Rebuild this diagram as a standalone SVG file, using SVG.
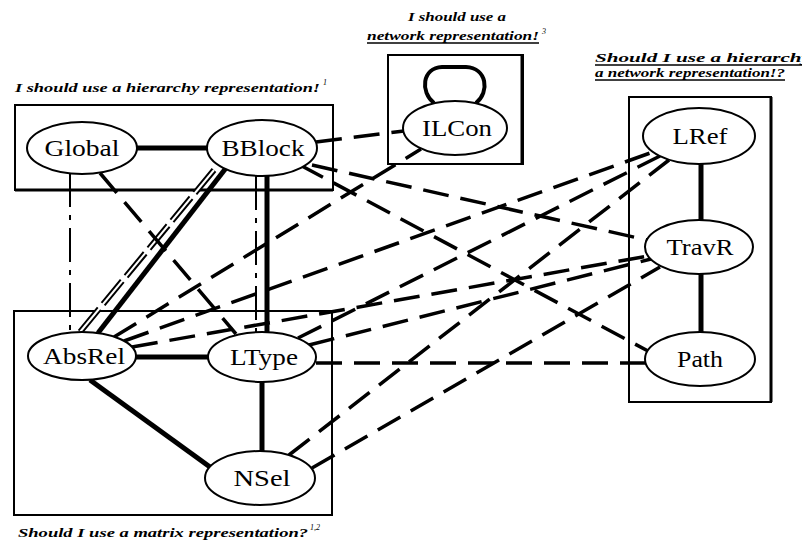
<svg xmlns="http://www.w3.org/2000/svg" width="802" height="546" viewBox="0 0 802 546">
<style>
.box{fill:none;stroke:#000;stroke-width:2}
.node ellipse{fill:#fff;stroke:#000;stroke-width:2}
.node text{font-family:"Liberation Serif",serif;font-size:23px;text-anchor:middle;fill:#000}
.solid{fill:none;stroke:#000;stroke-width:5}
.dash{fill:none;stroke:#000;stroke-width:3.5;stroke-dasharray:26 12}
.thin{fill:none;stroke:#000;stroke-width:2;stroke-dasharray:34 8 5 8}
.label{font-family:"Liberation Serif",serif;font-style:italic;font-weight:bold;font-size:12px;fill:#000}
.sup{font-family:"Liberation Serif",serif;font-style:italic;font-size:8px;fill:#000}
.ul{stroke:#000;stroke-width:1.5}
</style>
<rect width="802" height="546" fill="#fff"/>

<!-- cluster boxes -->
<g id="clusters">
  <rect class="box" x="15" y="105" width="318" height="85"/>
  <line x1="15" y1="190" x2="333" y2="190" stroke="#000" stroke-width="3"/>
  <rect class="box" x="14" y="311" width="318" height="204"/>
  <rect class="box" x="388" y="55" width="135" height="109"/>
  <line x1="522" y1="55" x2="522" y2="164" stroke="#000" stroke-width="3"/>
  <rect class="box" x="629" y="97" width="142" height="305"/>
  <line x1="771" y1="97" x2="771" y2="402" stroke="#000" stroke-width="3"/>
</g>

<!-- labels -->
<g id="labels">
  <text class="label" x="15" y="92" textLength="305" lengthAdjust="spacingAndGlyphs">I should use a hierarchy representation!</text>
  <text class="sup" x="323" y="85">1</text>
  <text class="label" x="408" y="21" textLength="98" lengthAdjust="spacingAndGlyphs">I should use a</text>
  <text class="label" x="367" y="40" textLength="172" lengthAdjust="spacingAndGlyphs">network representation!</text>
  <line class="ul" x1="367" y1="43" x2="539" y2="43"/>
  <text class="sup" x="542" y="34">3</text>
  <text class="label" x="595" y="62" textLength="240" lengthAdjust="spacingAndGlyphs">Should I use a hierarchy or</text>
  <line class="ul" x1="595" y1="65" x2="802" y2="65"/>
  <text class="label" x="595" y="77" textLength="190" lengthAdjust="spacingAndGlyphs">a network representation!?</text>
  <line class="ul" x1="595" y1="80" x2="785" y2="80"/>
  <text class="label" x="18" y="537" textLength="290" lengthAdjust="spacingAndGlyphs">Should I use a matrix representation?</text>
  <text class="sup" x="310" y="530">1,2</text>
</g>

<!-- connectors -->
<g id="edges">
  <line class="solid" x1="137" y1="148" x2="207" y2="148"/>
  <line class="solid" x1="226" y1="168" x2="98" y2="333"/>
  <line fill="none" stroke="#000" stroke-width="6" stroke-dasharray="30 6" x1="214" y1="170" x2="80" y2="332"/>
  <line fill="none" stroke="#fff" stroke-width="2" x1="214" y1="170" x2="80" y2="332"/>
  <line class="solid" x1="267" y1="176" x2="267" y2="333"/>
  <line class="thin" stroke-width="3" x1="256" y1="176" x2="256" y2="333"/>
  <line class="solid" x1="136" y1="357" x2="208" y2="357"/>
  <line class="solid" x1="90" y1="380" x2="210" y2="467"/>
  <line class="solid" x1="262" y1="382" x2="262" y2="452"/>
  <line class="solid" x1="701" y1="164" x2="701" y2="221"/>
  <line class="solid" x1="701" y1="273" x2="701" y2="333"/>

  <line class="thin" x1="70" y1="173" x2="70" y2="333"/>
  <line class="dash" x1="100" y1="173" x2="236" y2="334"/>
  <line class="dash" x1="316" y1="142" x2="404" y2="131"/>
  <line class="dash" x1="312" y1="165" x2="647" y2="240"/>
  <line class="dash" x1="300" y1="165" x2="648" y2="351"/>
  <line class="dash" x1="114" y1="337" x2="421" y2="149"/>
  <line class="dash" x1="124" y1="341" x2="653" y2="152"/>
  <line class="dash" x1="132" y1="347" x2="648" y2="256"/>
  <line class="dash" x1="298" y1="338" x2="660" y2="156"/>
  <line class="dash" x1="309" y1="345" x2="651" y2="259"/>
  <line class="dash" x1="316" y1="363" x2="646" y2="363"/>
  <line class="dash" x1="289" y1="455" x2="669" y2="160"/>
  <line class="dash" x1="312" y1="468" x2="660" y2="267"/>
  <path fill="none" stroke="#000" stroke-width="4" d="M434,103 C420,92 422,68 442,67 L466,67 C487,68 490,92 476,103"/>
</g>

<!-- nodes -->
<g id="Global" class="node"><ellipse cx="82" cy="148" rx="55" ry="26"/><text x="82" y="156" textLength="75" lengthAdjust="spacingAndGlyphs">Global</text></g>
<g id="BBlock" class="node"><ellipse cx="262" cy="148" rx="55" ry="28"/><text x="263" y="156" textLength="83" lengthAdjust="spacingAndGlyphs">BBlock</text></g>
<g id="ILCon" class="node"><ellipse cx="455" cy="128" rx="52" ry="27"/><text x="457" y="136" textLength="70" lengthAdjust="spacingAndGlyphs">ILCon</text></g>
<g id="LRef" class="node"><ellipse cx="699" cy="136" rx="56" ry="28"/><text x="700" y="144" textLength="55" lengthAdjust="spacingAndGlyphs">LRef</text></g>
<g id="TravR" class="node"><ellipse cx="699" cy="247" rx="54" ry="27"/><text x="700" y="255" textLength="67" lengthAdjust="spacingAndGlyphs">TravR</text></g>
<g id="Path" class="node"><ellipse cx="700" cy="359" rx="55" ry="27"/><text x="700" y="367" textLength="46" lengthAdjust="spacingAndGlyphs">Path</text></g>
<g id="AbsRel" class="node"><ellipse cx="82" cy="356" rx="54" ry="24"/><text x="84" y="364" textLength="82" lengthAdjust="spacingAndGlyphs">AbsRel</text></g>
<g id="LType" class="node"><ellipse cx="262" cy="357" rx="54" ry="25"/><text x="264" y="365" textLength="68" lengthAdjust="spacingAndGlyphs">LType</text></g>
<g id="NSel" class="node"><ellipse cx="260" cy="478" rx="55" ry="27"/><text x="262" y="486" textLength="57" lengthAdjust="spacingAndGlyphs">NSel</text></g>
</svg>
